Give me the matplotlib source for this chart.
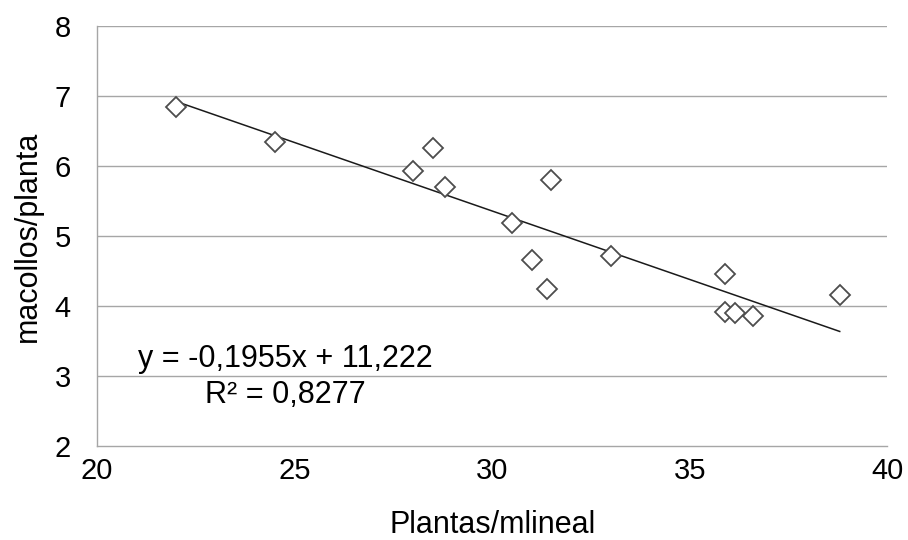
import numpy as np
from matplotlib import pyplot as plt

plt.rcParams['font.family'] = ['Liberation Sans', 'DejaVu Sans']

# plants per linear metre vs tillers per plant
plantas = [22.0, 24.5, 28.0, 28.5, 28.8, 30.5, 31.0, 31.4, 31.5, 33.0,
           35.9, 35.9, 36.15, 36.6, 38.8]
macollos = [6.84, 6.34, 5.93, 6.26, 5.70, 5.18, 4.66, 4.24, 5.80, 4.72,
            4.46, 3.91, 3.90, 3.86, 4.15]

slope = -0.1955
intercept = 11.222
r2_label = 'R² = 0,8277'
eq_label = 'y = -0,1955x + 11,222'

x_ticks = [20, 25, 30, 35, 40]
y_ticks = [2, 3, 4, 5, 6, 7, 8]

fig = plt.figure(figsize=(9.08, 5.4), dpi=100)
ax = fig.add_axes([0.107, 0.174, 0.870, 0.778])

grid_color = '#a6a6a6'
for yv in y_ticks[1:]:
    ax.axhline(yv, color=grid_color, lw=1.0, zorder=0)

ax.plot(plantas, macollos, linestyle='none', marker='D', markersize=10.5,
        markerfacecolor='white', markeredgecolor='#4d4d4d',
        markeredgewidth=1.3, zorder=3)

x_fit = np.array([min(plantas), max(plantas)])
ax.plot(x_fit, slope * x_fit + intercept, color='#1a1a1a', lw=1.1, zorder=2)

ax.text(0.238, 0.165, eq_label + '\n' + r2_label, transform=ax.transAxes,
        ha='center', va='center', fontsize=22, linespacing=1.25)

ax.set_xlim(20, 40)
ax.set_ylim(2, 8)
ax.set_xticks(x_ticks)
ax.set_yticks(y_ticks)
ax.tick_params(length=0, labelsize=21)
ax.tick_params(axis='x', pad=8)
ax.tick_params(axis='y', pad=19)
for side in ['top', 'right']:
    ax.spines[side].set_visible(False)
for side in ['left', 'bottom']:
    ax.spines[side].set_color(grid_color)
    ax.spines[side].set_linewidth(1.0)

ax.set_xlabel('Plantas/mlineal', fontsize=22, labelpad=18)
ax.set_ylabel('macollos/planta', fontsize=22, labelpad=8)

fig.savefig('out.png', dpi=100)
plt.close()
